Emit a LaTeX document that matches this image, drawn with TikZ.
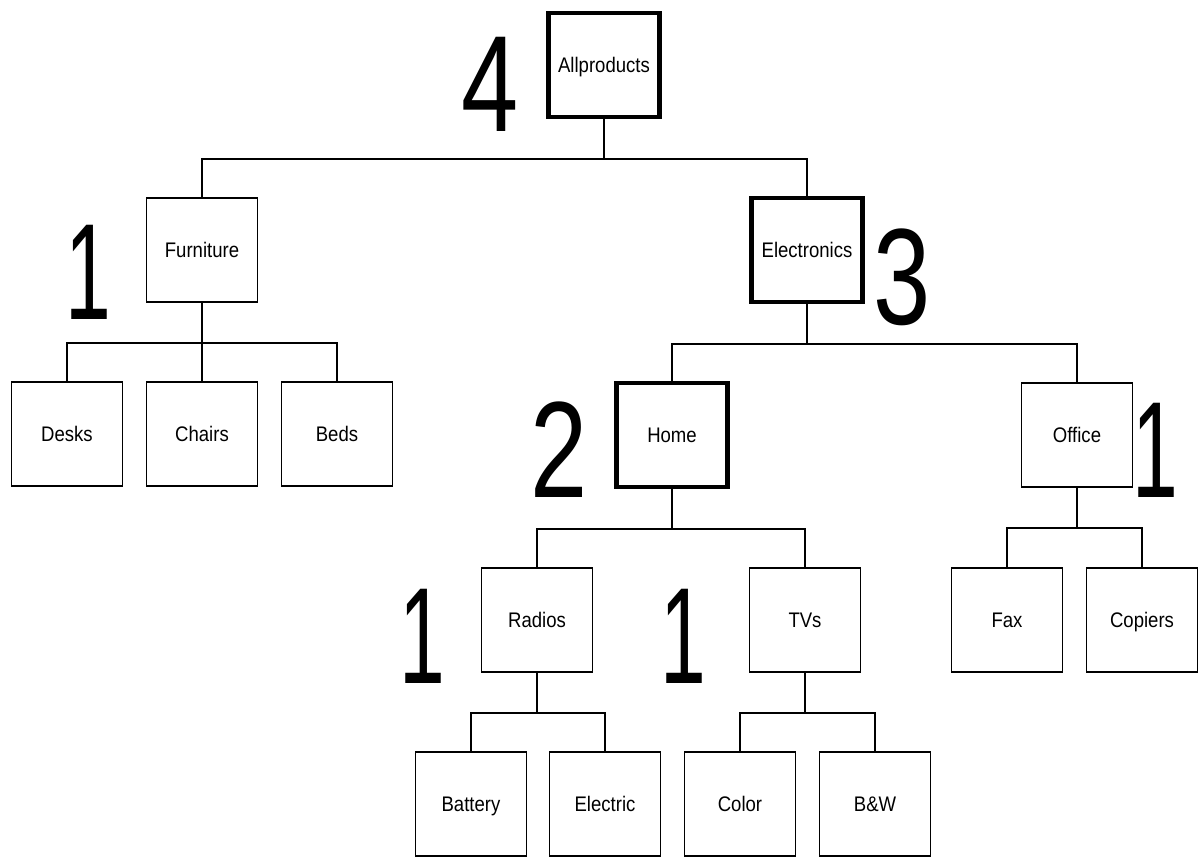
\documentclass[tikz,border=0pt]{standalone}
\usepackage{fontspec}
\setmainfont{Liberation Sans}
\newfontfamily\labelfont[FakeStretch=0.88]{Liberation Sans}
\newfontfamily\countfont[FakeStretch=0.75]{Liberation Sans}
\newfontfamily\onefont[FakeStretch=0.6]{Liberation Sans}
\usetikzlibrary{positioning}

\begin{document}
\begin{tikzpicture}[x=0.02cm, y=-0.02cm,
    catbox/.style={draw, fill=white, line width=0.9pt, minimum width=2.22cm,
      minimum height=2.08cm, inner sep=0pt, text height=8.5pt, text depth=0pt,
      font=\labelfont\fontsize{12}{14}\selectfont},
    topbox/.style={catbox, line width=2.4pt},
    count/.style={inner sep=0pt, font=\countfont\fontsize{78}{80}\selectfont},
    countone/.style={count, font=\onefont\fontsize{78}{80}\selectfont},
    link/.style={line width=0.9pt}]
  \useasboundingbox[fill=white] (0,0) rectangle (1202,857);

  % hierarchy
  \node[topbox] (all) at (604,65) {Allproducts};
  \node[catbox] (furn) at (202,250) {Furniture};
  \node[topbox] (elec) at (807,250) {Electronics};
  \node[catbox] (desks) at (67,434) {Desks};
  \node[catbox] (chairs) at (202,434) {Chairs};
  \node[catbox] (beds) at (337,434) {Beds};
  \node[topbox] (home) at (672,435) {Home};
  \node[catbox] (office) at (1077,435) {Office};
  \node[catbox] (radios) at (537,620) {Radios};
  \node[catbox] (tvs) at (805,620) {TVs};
  \node[catbox] (fax) at (1007,620) {Fax};
  \node[catbox] (copiers) at (1142,620) {Copiers};
  \node[catbox] (battery) at (471,804) {Battery};
  \node[catbox] (electric) at (605,804) {Electric};
  \node[catbox] (color) at (740,804) {Color};
  \node[catbox] (bw) at (875,804) {B\&W};

  % connectors
  \foreach \p/\c in {all/furn, all/elec, furn/desks, furn/chairs, furn/beds,
      elec/home, elec/office, home/radios, home/tvs, office/fax, office/copiers,
      radios/battery, radios/electric, tvs/color, tvs/bw}
    \draw[link] (\p.south) -- ++(0,40) -| (\c.north);

  % counts
  \node[count] (nall) at (490,84) {4};
  \node[countone] (nfurn) at (88,272) {1};
  \node[count] (nelec) at (902,277) {3};
  \node[count] (nhome) at (559,450) {2};
  \node[countone] (noffice) at (1155,450) {1};
  \node[countone] (nradios) at (422,636) {1};
  \node[countone] (ntvs) at (683,636) {1};
\end{tikzpicture}
\end{document}
